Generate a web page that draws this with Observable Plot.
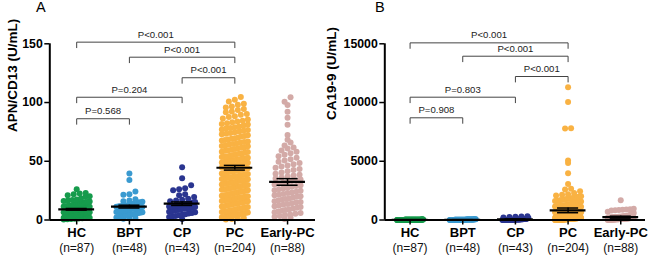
<!DOCTYPE html>
<html><head><meta charset="utf-8">
<script src="https://cdn.jsdelivr.net/npm/d3@7"></script>
<script src="https://cdn.jsdelivr.net/npm/@observablehq/plot@0.6"></script>
<style>
body{margin:0;background:#fff;font-family:"Liberation Sans",Arial,sans-serif;}
#wrap{position:relative;width:650px;height:258px;overflow:hidden;background:#fff;}
.panel{position:absolute;top:0;}
.letter{position:absolute;top:0;font-size:14.5px;line-height:15px;color:#000;font-family:"Liberation Sans",Arial,sans-serif;}
</style></head><body><div id="wrap"></div>
<script>
// ---------- categories / labels ----------
const groups = ["HC", "BPT", "CP", "PC", "Early-PC"];
const nLabels = ["(n=87)", "(n=48)", "(n=43)", "(n=204)", "(n=88)"];
const groupColors = ["#169b4c", "#3a9ad0", "#2a3590", "#f9b243", "#d3aaa7"];
const pairs = [[0, 3], [1, 3], [2, 3], [0, 2], [0, 1]];
const pLabelsA = ["P<0.001", "P<0.001", "P<0.001", "P=0.204", "P=0.568"];
const pLabelsB = ["P<0.001", "P<0.001", "P<0.001", "P=0.803", "P=0.908"];
const yTicksA = [0, 50, 100, 150];
const yTicksB = [0, 5000, 10000, 15000];

// ---------- Panel A: APN/CD13 (U/mL) ----------
const apnHC = [26.2,23.0,22.5,22.0,21.0,20.3,19.5,18.2,17.5,17.0,16.6,16.2,15.8,15.3,15.0,14.6,14.2,13.8,13.5,13.1,12.8,12.4,12.1,11.8,11.5,11.2,10.9,10.6,10.3,10.0,9.8,9.5,9.2,9.0,8.8,8.5,8.3,8.0,7.8,7.6,7.4,7.1,6.9,6.7,6.5,6.3,6.1,5.9,5.7,5.5,5.3,5.1,4.9,4.7,4.5,4.3,4.1,3.9,3.7,3.5,3.3,3.1,2.9,2.7,2.5,2.3,2.1,1.9,1.7,1.5,1.3,1.1,0.9,0.7,0.5,12.0,10.5,9.1,8.1,7.0,6.0,5.0,4.0,3.0,2.0,14.0,11.0];
const apnBPT = [39.5,34.0,24.2,22.0,21.5,17.7,16.5,16.0,15.2,14.8,14.0,13.6,13.0,12.5,12.2,11.8,11.3,11.0,10.6,10.2,9.8,9.5,9.1,8.7,8.4,8.0,7.6,7.2,6.9,6.5,6.1,5.8,5.4,5.0,4.6,4.2,3.8,3.4,3.0,2.6,2.2,1.8,1.4,1.0,12.0,10.0,7.0,15.5];
const apnCP = [45.0,35.6,29.6,27.0,26.2,25.4,22.0,21.0,19.5,18.0,17.2,16.5,16.0,15.4,14.8,14.2,13.6,13.0,12.5,12.0,11.5,11.0,10.5,10.0,9.5,9.0,8.5,8.0,7.5,7.0,6.5,6.0,5.5,5.0,4.5,4.0,3.5,3.0,2.5,0.8,13.3,11.8,9.8];
const apnPC = [0.4,0.9,1.5,1.8,2.3,2.6,3.1,3.3,3.8,4.1,4.4,4.8,
 5.2,5.7,6.0,6.3,6.9,7.2,7.5,8.1,8.4,8.7,9.3,9.6,
 10.2,10.5,11.1,11.5,11.8,12.4,12.7,13.0,13.6,13.9,14.2,14.8,
 15.1,15.6,15.9,16.2,16.8,17.0,17.5,17.8,18.1,18.7,19.0,19.3,19.9,
 20.2,20.7,21.0,21.3,21.9,22.1,22.6,22.9,23.2,23.8,24.1,24.4,24.9,
 25.3,25.8,26.1,26.3,26.9,27.2,27.5,28.1,28.4,28.7,29.1,29.6,29.9,
 30.3,30.8,31.1,31.4,31.9,32.2,32.5,33.1,33.4,33.7,34.1,34.6,34.9,
 35.2,35.8,36.1,36.4,36.9,37.2,37.5,38.1,38.4,38.7,39.1,39.6,39.9,
 40.3,40.9,41.2,41.5,42.1,42.4,42.8,43.4,43.7,44.0,44.6,44.9,
 45.3,45.8,46.2,46.5,47.1,47.4,47.7,48.4,48.7,49.0,49.6,49.9,
 50.4,50.9,51.3,51.6,52.3,52.6,53.0,53.6,54.0,54.3,54.9,
 55.3,55.9,56.3,56.7,57.4,57.8,58.2,58.9,59.3,59.7,
 60.4,61.0,61.5,61.9,62.7,63.1,63.6,64.3,64.8,
 65.3,65.9,66.4,66.8,67.6,68.0,68.5,69.2,69.7,
 70.3,71.0,71.6,72.1,72.9,73.4,74.0,74.7,
 75.3,76.0,76.6,77.1,77.9,78.4,79.0,79.7,
 80.4,81.2,81.8,82.4,83.3,83.9,84.5,
 85.6,86.4,87.6,88.4,89.6,
 90.3,91.7,92.4,93.6,94.4,
 95.8,96.6,98.2,99.0,
 100.8,102.4,104.7];
const apnEarly = [0.8,1.9,2.7,3.4,4.0,4.7,
 5.3,5.9,6.6,7.2,7.9,8.5,9.1,9.7,
 10.4,11.0,11.7,12.3,12.9,13.6,14.2,14.8,
 15.3,16.0,16.6,17.2,17.9,18.5,19.1,19.8,
 20.3,21.0,21.6,22.2,22.9,23.5,24.1,24.8,
 25.4,26.1,26.8,27.5,28.2,28.9,29.6,
 30.3,31.0,31.7,32.4,33.1,33.8,34.5,
 35.4,36.2,37.0,37.8,38.6,39.4,
 40.5,41.5,42.5,43.5,44.5,
 45.5,46.5,47.5,48.5,49.5,
 50.6,51.8,53.0,54.2,
 55.6,56.8,58.0,59.2,
 60.8,61.7,63.5,66.0,68.3,72.3,81.1,87.1,92.2,98.0,100.7,104.5];
const meanA = [9.1, 11.4, 13.9, 44.5, 32.4];
const semA = [0.7, 1.2, 1.5, 2.0, 2.8];

// ---------- Panel B: CA19-9 (U/mL) ----------
const caHC = [3,5,8,10,12,15,18,20,22,25,28,30,33,36,2,4,6,9,11,13,16,19,21,24,27,29,32,35,7,14,17,23,26,31,34,37,1,3,5,7,9,11,13,15,17,19,21,23,25,27,29,4,6,8,10,12,14,16,18,20,22,24,26,28,2,5,8,11,14,17,20,23,26,9,12,15,18,21,6,10,13,16,19,8,12,16,20];
const caBPT = [4,7,10,14,18,22,26,30,35,40,46,52,58,3,6,9,12,16,20,24,28,33,38,44,50,5,8,11,15,19,23,27,31,36,42,48,2,13,17,21,25,29,34,39,45,55,62,70];
const caCP = [320,300,280,250,210,180,150,120,100,90,80,70,65,60,55,50,45,40,36,32,28,25,22,19,16,13,10,8,6,4,85,75,48,42,30,27,20,15,12,9,5,3,2];
const caPC = [11300,10050,7820,7780,5060,4850,3980,3060,
 2650,2600,2450,2300,2200,2150,2080,2020,
 1980,1950,1920,1880,1850,1820,1790,1760,1730,1700,1670,1640,1610,1580,1550,1520,1490,1460,1430,1400,1370,1340,1310,1280,1260,1240,1220,1205,
 1190,1175,1160,1140,1120,1105,1090,1070,1050,1035,1020,1000,985,970,950,935,920,900,885,870,850,835,820,800,785,770,750,735,720,700,685,670,650,635,620,605,1100,950,800,650,
 590,575,560,548,535,520,505,492,480,468,455,440,428,415,402,390,378,365,352,340,328,316,305,295,285,275,265,255,245,235,226,218,210,204,560,470,380,300,240,212,
 195,190,185,180,176,172,168,164,160,155,150,146,142,138,134,130,126,122,118,114,110,106,102,98,94,90,86,82,78,74,70,66,62,58,54,50,46,42,38,34,30,27,24,21,18,15,12,9,6,3,188,170,158,144,128,112,96,80,64,48,32,16,8,4,2,140,120,100,60,40,20,10,5,1,180,150,75,35,25,13];
const caEarly = [1690,950,920,900,880,850,820,800,700,600,550,500,450,420,400,380,350,
 330,320,310,300,290,280,270,260,250,240,230,220,210,200,192,184,176,168,160,152,144,136,128,120,112,104,96,88,80,72,64,56,48,40,32,24,16,10,315,285,255,225,195,165,135,105,75,45,20,300,240,180,150,120,90,60,30,270,210,140,100,70,50,35,25,15,12,180,130,85,55];
const meanB = [20, 22, 60, 820, 240];
const semB = [3, 4, 12, 200, 85];

// ---------- drawing ----------
const TOP = 43.3, BOTTOM = 219.5, H = 258;
const rowH = 5.5, dotD = 6, halfW = 13;

function buildPanel(cfg) {
  const ys = d3.scaleLinear([0, cfg.yMax], [BOTTOM, TOP]);
  const unit = (cfg.width - cfg.marginRight - cfg.marginLeft) / (cfg.xDomain[1] - cfg.xDomain[0]);
  const pts = [];
  cfg.values.forEach((vals, gi) => {
    const sorted = vals.slice().sort((a, b) => a - b);
    const rows = d3.group(sorted, v => Math.round(ys(v) / rowH));
    for (const [, row] of rows) {
      const k = row.length;
      const sp = k > 1 ? Math.min(dotD, 2 * halfW / (k - 1)) : 0;
      row.forEach((v, j) => pts.push({g: gi, v, x: gi + ((j - (k - 1) / 2) * sp) / unit}));
    }
  });
  const idx = d3.range(groups.length);
  const drop = cfg.yMax * 5.5 / (BOTTOM - TOP);
  const brackets = pairs.map((p, k) => ({a: p[0], b: p[1], label: cfg.pLabels[k], level: cfg.levels[k]}));
  const path = brackets.flatMap((b, k) => [
    {k, x: b.a, y: b.level - drop}, {k, x: b.a, y: b.level},
    {k, x: b.b, y: b.level}, {k, x: b.b, y: b.level - drop}]);
  const caps = idx.flatMap(i => [{i, y: cfg.means[i] - cfg.sems[i]}, {i, y: cfg.means[i] + cfg.sems[i]}]);
  return Plot.plot({
    width: cfg.width, height: H,
    marginLeft: cfg.marginLeft, marginRight: cfg.marginRight,
    marginTop: TOP, marginBottom: H - BOTTOM,
    style: {fontFamily: "Liberation Sans, Arial, sans-serif", color: "#000", background: "transparent", overflow: "visible"},
    x: {domain: cfg.xDomain},
    y: {domain: [0, cfg.yMax]},
    color: {type: "identity"},
    marks: [
      Plot.dot(pts, {x: "x", y: "v", r: 3, fill: d => groupColors[d.g], stroke: null}),
      Plot.ruleY(idx, {y: i => cfg.means[i], x1: i => i - 0.34, x2: i => i + 0.34, stroke: "#000", strokeWidth: 2.2}),
      Plot.ruleX(idx, {x: i => i, y1: i => cfg.means[i] - cfg.sems[i], y2: i => cfg.means[i] + cfg.sems[i], stroke: "#000", strokeWidth: 1.5}),
      Plot.ruleY(caps, {y: "y", x1: d => d.i - 0.2, x2: d => d.i + 0.2, stroke: "#000", strokeWidth: 1.5}),
      Plot.ruleX([cfg.xDomain[0]], {y1: 0, y2: cfg.yMax, stroke: "#000", strokeWidth: 2}),
      Plot.ruleY([0], {x1: cfg.xDomain[0], x2: cfg.xDomain[1], stroke: "#000", strokeWidth: 2}),
      Plot.axisY({ticks: cfg.yTicks, tickSize: 5, tickPadding: 2, fontSize: 12.3, fontWeight: "bold", strokeWidth: 1.5, label: null, tickFormat: d => String(d)}),
      Plot.axisX({ticks: idx, tickSize: 5, tickFormat: () => "", strokeWidth: 1.5, label: null}),
      Plot.text(idx, {x: i => i, y: 0, dy: 12.5, text: i => groups[i], fontWeight: "bold", fontSize: 13, fill: "#000"}),
      Plot.text(idx, {x: i => i, y: 0, dy: 28.5, text: i => nLabels[i], fontSize: 12, fill: "#111"}),
      Plot.text([cfg.yLabel], {frameAnchor: "left", dx: cfg.titleDx, dy: cfg.titleDy, rotate: -90, fontWeight: "bold", fontSize: 13.5, fill: "#000"}),
      Plot.line(path, {x: "x", y: "y", z: "k", stroke: "#444", strokeWidth: 1}),
      Plot.text(brackets, {x: b => (b.a + b.b) / 2, y: "level", dy: -7.5, text: "label", fontSize: 9.6, fill: "#222"})
    ]
  });
}

const wrap = document.getElementById("wrap");
function place(node, left, width) {
  const d = document.createElement("div");
  d.className = "panel"; d.style.left = left + "px"; d.style.width = width + "px";
  d.appendChild(node); wrap.appendChild(d);
}
function letter(txt, left) {
  const d = document.createElement("div");
  d.className = "letter"; d.style.left = left + "px"; d.textContent = txt; wrap.appendChild(d);
}

place(buildPanel({
  values: [apnHC, apnBPT, apnCP, apnPC, apnEarly], means: meanA, sems: semA,
  yMax: 150, yTicks: yTicksA, yLabel: "APN/CD13 (U/mL)", pLabels: pLabelsA,
  levels: [151.4, 138.6, 121.1, 104.5, 86.2],
  width: 325, marginLeft: 49.3, marginRight: 10, xDomain: [-0.51, 4.53],
  titleDx: -36.8, titleDy: 0
}), 0, 325);

place(buildPanel({
  values: [caHC, caBPT, caCP, caPC, caEarly], means: meanB, sems: semB,
  yMax: 15000, yTicks: yTicksB, yLabel: "CA19-9 (U/mL)", pLabels: pLabelsB,
  levels: [15080, 13944, 12216, 10454, 8700],
  width: 330, marginLeft: 64.3, marginRight: 5, xDomain: [-0.48, 4.47],
  titleDx: -52.8, titleDy: -12
}), 320, 330);

letter("A", 36);
letter("B", 375);
</script>
</body></html>
